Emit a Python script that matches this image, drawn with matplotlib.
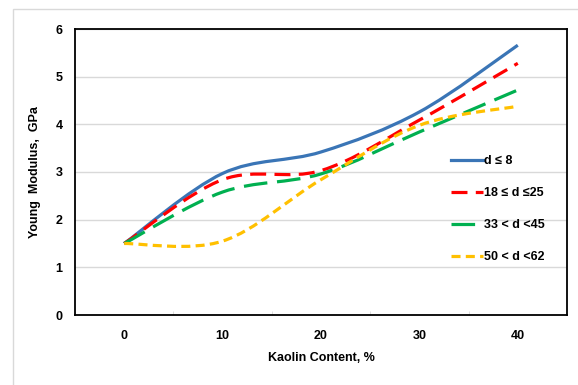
import matplotlib.pyplot as plt
from matplotlib.path import Path
from matplotlib.patches import PathPatch, Rectangle
from matplotlib.lines import Line2D

plt.rcParams['font.family'] = 'sans-serif'
plt.rcParams['font.sans-serif'] = ['Liberation Sans', 'DejaVu Sans']
plt.rcParams['lines.scale_dashes'] = False

# data
kaolin = [0, 10, 20, 30, 40]
e_d8 = [1.5, 2.97, 3.42, 4.26, 5.66]
e_d18_25 = [1.5, 2.84, 3.03, 4.09, 5.28]
e_d33_45 = [1.5, 2.58, 2.96, 3.84, 4.72]
e_d50_62 = [1.5, 1.55, 2.84, 3.98, 4.38]
labels = ['d ≤ 8', '18 ≤ d ≤25', '33 < d <45', '50 < d <62']

colors = ['#3A75B6', '#FF0000', '#00B050', '#FFC000']
styles = ['-', (0, (11.5, 6)), (0, (17, 7)), (0, (6.5, 3.8))]


def smooth_path(xs, ys):
    # Excel-like smoothed line: cubic Bezier segments (Catmull-Rom control points)
    pts = list(zip(xs, ys))
    n = len(pts)
    verts = [pts[0]]
    codes = [Path.MOVETO]
    for i in range(n - 1):
        p0 = pts[i - 1] if i > 0 else pts[i]
        p1 = pts[i]
        p2 = pts[i + 1]
        p3 = pts[i + 2] if i + 2 < n else pts[i + 1]
        c1 = (p1[0] + (p2[0] - p0[0]) / 6, p1[1] + (p2[1] - p0[1]) / 6)
        c2 = (p2[0] - (p3[0] - p1[0]) / 6, p2[1] - (p3[1] - p1[1]) / 6)
        verts += [c1, c2, p2]
        codes += [Path.CURVE4] * 3
    return Path(verts, codes)


fig = plt.figure(figsize=(5.78, 3.85), dpi=100)
ax = fig.add_axes([75 / 578, 70 / 385, 492 / 578, 286 / 385])

# outer chart border
fig.add_artist(Rectangle((13 / 578, -0.1), 2, 1 - 9 / 385 + 0.1, transform=fig.transFigure,
                         facecolor='none', edgecolor='#d9d9d9', linewidth=1, clip_on=False))

handles = []
for ys, c, ls, lab in zip([e_d8, e_d18_25, e_d33_45, e_d50_62], colors, styles, labels):
    ax.add_patch(PathPatch(smooth_path(kaolin, ys), facecolor='none', edgecolor=c,
                           linewidth=2.3, linestyle=ls, capstyle='butt', zorder=3))
    handles.append(Line2D([], [], color=c, linewidth=2.3, linestyle=ls, label=lab))

ax.set_xlim(-5, 45)
ax.set_ylim(0, 6)
ax.set_xticks(kaolin)
ax.set_xticks([5, 15, 25, 35], minor=True)
ax.set_yticks(range(0, 7))
ax.grid(axis='y', color='#d9d9d9', linewidth=1)
ax.set_axisbelow(True)
ax.tick_params(axis='both', which='major', length=0, labelsize=9)
ax.tick_params(axis='x', which='major', pad=11)
ax.tick_params(axis='y', which='major', pad=9)
ax.tick_params(axis='x', which='minor', direction='in', length=3, color='#d9d9d9')
for lab in ax.get_xticklabels() + ax.get_yticklabels():
    lab.set_fontweight('bold')
for sp in ax.spines.values():
    sp.set_color('black')
    sp.set_linewidth(1.3)

ax.set_xlabel('Kaolin Content, %', fontsize=9, fontweight='bold', labelpad=7)
ax.set_ylabel('Young  Modulus,  GPa', fontsize=9, fontweight='bold', labelpad=10)

fig.legend(handles=handles, loc='upper left', bbox_to_anchor=(445 / 578, 1 - 149 / 385),
           frameon=False, prop={'weight': 'bold', 'size': 9},
           handlelength=2.5, handletextpad=0.15, labelspacing=1.6, borderpad=0)

fig.savefig('out.png', dpi=100)
